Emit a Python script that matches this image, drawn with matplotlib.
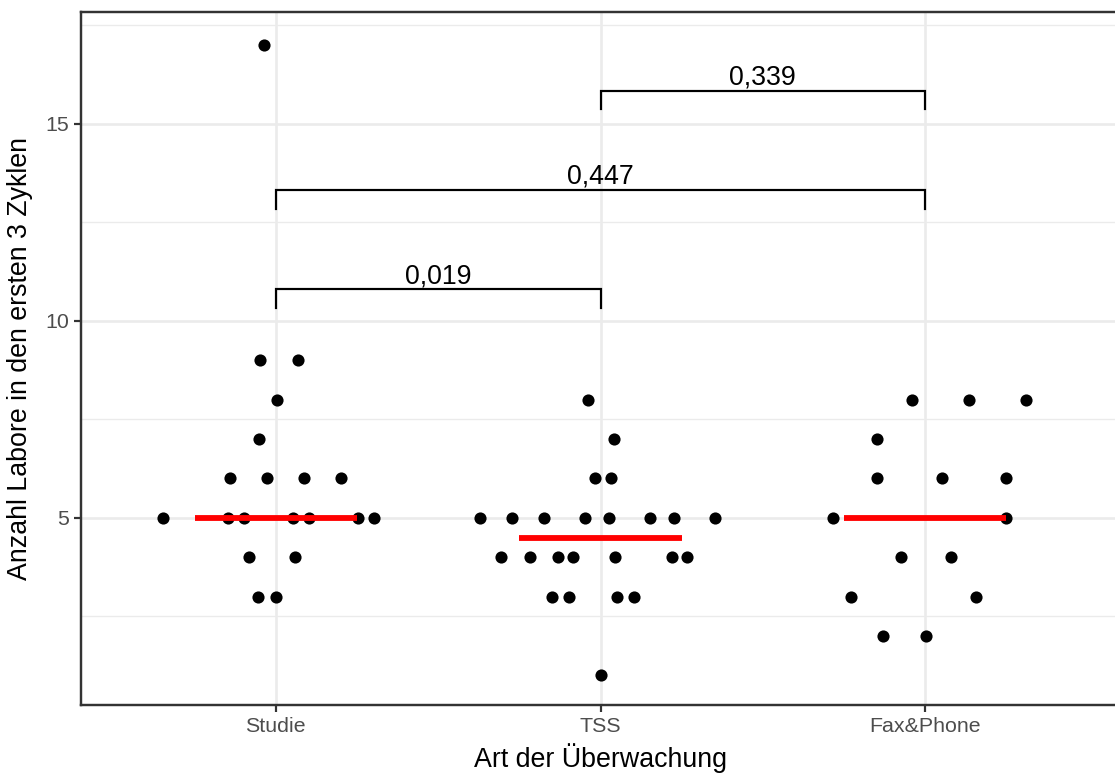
import matplotlib
matplotlib.use("Agg")
import matplotlib.pyplot as plt
import numpy as np

plt.rcParams['font.family'] = ['Liberation Sans', 'DejaVu Sans']

categories = ["Studie", "TSS", "Fax&Phone"]

studie_values = [17, 9, 9, 8, 7, 6, 6, 6, 6, 5, 5, 5, 5, 5, 5, 5, 4, 4, 3, 3]
studie_jitter = [-0.037, -0.048, 0.067, 0.005, -0.051, -0.14, -0.027, 0.087, 0.20,
                 -0.348, -0.148, -0.097, 0.052, 0.102, 0.253, 0.302, -0.084, 0.058,
                 -0.055, 0.002]

tss_values = [8, 7, 6, 6, 5, 5, 5, 5, 5, 5, 5, 5, 4, 4, 4, 4, 4, 4, 4, 3, 3, 3, 3, 1]
tss_jitter = [-0.039, 0.041, -0.018, 0.033,
              -0.372, -0.274, -0.173, -0.048, 0.027, 0.152, 0.227, 0.352,
              -0.305, -0.218, -0.130, -0.084, 0.045, 0.220, 0.265,
              -0.148, -0.098, 0.051, 0.102, 0.002]

fax_values = [8, 8, 8, 7, 6, 6, 6, 5, 5, 4, 4, 3, 3, 2, 2]
fax_jitter = [-0.042, 0.134, 0.311, -0.147, -0.147, 0.051, 0.249, -0.285, 0.249,
              -0.075, 0.079, -0.228, 0.155, -0.131, 0.001]

# significance comparisons: (group a, group b, p-value label, bracket height)
comparisons = [("Studie", "TSS", "0,019", 10.8),
               ("Studie", "Fax&Phone", "0,447", 13.32),
               ("TSS", "Fax&Phone", "0,339", 15.84)]

groups = [(studie_values, studie_jitter), (tss_values, tss_jitter), (fax_values, fax_jitter)]

W, H, DPI = 1115, 773, 175
fig = plt.figure(figsize=(W / DPI, H / DPI), dpi=DPI)
left, right, top, bottom = 81 / W, 1120 / W, 12 / H, 705 / H
ax = fig.add_axes([left, 1 - bottom, right - left, bottom - top])

ax.set_xlim(0.4, 3.6)
ax.set_ylim(0.25, 17.84)

# grid
for y in [2.5, 7.5, 12.5, 17.5]:
    ax.axhline(y, color='#EBEBEB', lw=0.55, zorder=0)
for y in [5, 10, 15]:
    ax.axhline(y, color='#EBEBEB', lw=1.07, zorder=0)
for x in [1, 2, 3]:
    ax.axvline(x, color='#EBEBEB', lw=1.07, zorder=0)

for i, (vals, jit) in enumerate(groups):
    xs = np.array(jit) + (i + 1)
    ax.scatter(xs, vals, s=5.0 ** 2, color='black', linewidths=0, zorder=3)
    med = np.median(vals)
    ax.plot([i + 1 - 0.25, i + 1 + 0.25], [med, med], color='red', lw=2.4,
            solid_capstyle='butt', zorder=4)

tip = 0.47
for a, b, lab, h in comparisons:
    xa = categories.index(a) + 1
    xb = categories.index(b) + 1
    ax.plot([xa, xa, xb, xb], [h - tip, h, h, h - tip], color='black', lw=0.9,
            zorder=5, solid_joinstyle='miter')
    ax.annotate(lab, xy=((xa + xb) / 2, h), xytext=(0, 2.6), textcoords='offset points',
                ha='center', va='baseline', fontsize=11, color='black')

ax.set_xticks([1, 2, 3])
ax.set_xticklabels(categories)
ax.set_yticks([5, 10, 15])
ax.tick_params(axis='both', colors='#333333', labelcolor='#4D4D4D', labelsize=8.8,
               length=2.75, width=0.9, pad=2.2)

for s in ax.spines.values():
    s.set_color('#333333')
    s.set_linewidth(1.0)

ax.set_xlabel("Art der Überwachung", fontsize=11, color='black', labelpad=3)
ax.set_ylabel("Anzahl Labore in den ersten 3 Zyklen", fontsize=11, color='black', labelpad=5)

fig.savefig("out.png", dpi=DPI)
